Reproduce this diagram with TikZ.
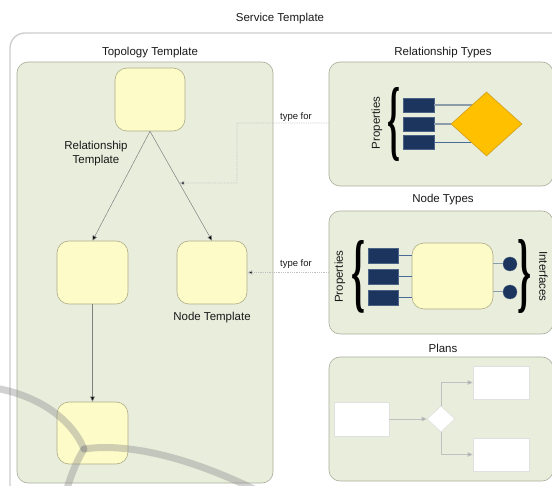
\documentclass[tikz,border=0pt]{standalone}
\usepackage{fontspec}
\setmainfont{Liberation Sans}
\newfontfamily\bracefont{Liberation Serif}
\usetikzlibrary{arrows.meta,shapes.geometric,calc}
\definecolor{outerline}{HTML}{CCCCCC}
\definecolor{boxfill}{HTML}{E9EDDC}
\definecolor{boxline}{HTML}{A9AD9C}
\definecolor{yelfill}{HTML}{FDFBC8}
\definecolor{yelline}{HTML}{B0AE88}
\definecolor{navy}{HTML}{1C355E}
\definecolor{navyline}{HTML}{4A6283}
\definecolor{orange}{HTML}{FFC000}
\definecolor{orangeline}{HTML}{D0A020}
\definecolor{propline}{HTML}{8C9DAA}
\definecolor{propblue}{HTML}{4A6A98}
\definecolor{arrowline}{HTML}{808080}
\definecolor{typeline}{HTML}{C0C0C0}
\definecolor{planline}{HTML}{C0C0C0}
\definecolor{planhead}{HTML}{A8A8A8}
\begin{document}
\begin{tikzpicture}[x=1pt,y=-1pt,
  lbl/.style={font=\fontsize{11.5}{14}\selectfont, text=black!90, inner sep=0pt},
  small/.style={font=\fontsize{9.5}{11}\selectfont, text=black!90, inner sep=0pt},
  panel/.style={draw=boxline, fill=boxfill, line width=0.6pt, rounded corners=11pt, inner sep=0pt},
  yel/.style={draw=yelline, fill=yelfill, line width=0.6pt, rounded corners=12pt, inner sep=0pt},
  prop/.style={draw=navyline, fill=navy, line width=0.4pt, minimum width=31pt, minimum height=14pt, inner sep=0pt},
  iface/.style={circle, fill=navy, draw=navyline, line width=0.3pt, minimum size=14pt, inner sep=0pt},
  planbox/.style={draw=black!12, fill=white, line width=0.6pt, minimum width=56pt, minimum height=33pt, inner sep=0pt},
  tarrow/.style={draw=arrowline, line width=0.5pt, -{Triangle[length=5pt,width=4.5pt,fill=black]}},
  tfline/.style={draw=typeline, line width=0.8pt, densely dotted, -{Triangle[length=5pt,width=4.5pt,fill=black]}},
  pline/.style={draw=planline, line width=0.7pt, -{Triangle[length=5pt,width=4.5pt,fill=planhead]}},
  wm/.style={draw=black!45, line width=7pt, opacity=0.4, line cap=round}
]
\useasboundingbox (0,0) rectangle (552,486);
\clip (0,0) rectangle (552,486);

% Service template outer frame
\draw[outerline, line width=1.3pt, rounded corners=15pt] (10,33) rectangle (600,500);
\node[lbl] (stitle) at (280,19) {Service Template};

% Topology template
\node[panel, minimum width=256pt, minimum height=421pt] (topo) at (145,272.5) {};
\node[lbl] (ttitle) at (150,53) {Topology Template};

\node[yel, minimum width=70pt, minimum height=63pt] (top) at (150,99.5) {};
\node[yel, minimum width=71pt, minimum height=63pt] (lmid) at (92.5,272.5) {};
\node[yel, minimum width=70pt, minimum height=63pt] (rmid) at (212,272.5) {};
\node[yel, minimum width=71pt, minimum height=62pt] (bot) at (92.5,433) {};

\node[lbl, align=center] (rtlabel) at (96,154) {Relationship\\Template};
\node[lbl] (ntlabel) at (212,318) {Node Template};

\draw[tarrow] (top.south) -- (lmid.north);
\draw[tarrow] (top.south) -- (rmid.north);
\draw[tarrow] (lmid.south) -- (bot.north);
\path (top.south) -- (rmid.north) coordinate[pos=0.473] (tf1);

% Relationship types
\node[panel, minimum width=224pt, minimum height=124pt] (rt) at (441,124) {};
\node[lbl] (rttitle) at (443,53) {Relationship Types};
\node[prop] (rp1) at (418.5,105) {};
\node[prop] (rp2) at (418.5,124) {};
\node[prop] (rp3) at (418.5,142.5) {};
\draw[propline, line width=1.2pt] (rp1.east) -- (486,105);
\draw[propline, line width=1.2pt] (rp2.east) -- (486,124);
\draw[propblue, line width=1.2pt] (rp3.east) -- (486,142.5);
\node[diamond, draw=orangeline, fill=orange, line width=0.6pt, minimum width=71pt, minimum height=64pt, inner sep=0pt, aspect=1.1] (rdia) at (486.5,124) {};
\node[inner sep=0pt] (rbrace) at (394,124) {\resizebox{13pt}{62pt}{\bracefont\bfseries\{}};
\node[lbl, rotate=90] (rprops) at (377,123) {Properties};

% Node types
\node[panel, minimum width=224pt, minimum height=123pt] (nt) at (441,272.5) {};
\node[lbl] (nttitle) at (443,200) {Node Types};
\node[yel, minimum width=81pt, minimum height=66pt] (ntbox) at (452.5,276) {};
\node[prop, minimum width=30pt, minimum height=14.5pt] (np1) at (383,255.5) {};
\node[prop, minimum width=30pt, minimum height=14.5pt] (np2) at (383,276.5) {};
\node[prop, minimum width=30pt, minimum height=14.5pt] (np3) at (383,297.5) {};
\draw[propblue, line width=0.8pt] (np1.east) -- (np1.east -| ntbox.west);
\draw[propblue, line width=0.8pt] (np2.east) -- (np2.east -| ntbox.west);
\draw[propblue, line width=0.8pt] (np3.east) -- (np3.east -| ntbox.west);
\node[iface] (if1) at (510,264) {};
\node[iface] (if2) at (510,292) {};
\draw[propline, line width=1pt] (if1.west -| ntbox.east) -- (if1.west);
\draw[propline, line width=1pt] (if2.west -| ntbox.east) -- (if2.west);
\node[inner sep=0pt] (nbrace) at (358,276.5) {\resizebox{14pt}{61pt}{\bracefont\bfseries\{}};
\node[inner sep=0pt] (ibrace) at (524.5,276) {\resizebox{14pt}{62pt}{\bracefont\bfseries\}}};
\node[lbl, rotate=90] (nprops) at (340,276.5) {Properties};
\node[lbl, rotate=-90] (ifaces) at (543.5,276.5) {Interfaces};

% Plans
\node[panel, minimum width=224pt, minimum height=124pt] (plans) at (441,419) {};
\node[lbl] (ptitle) at (443,348) {Plans};
\node[planbox, minimum width=55pt, minimum height=34pt] (pstart) at (361.5,419) {};
\node[planbox] (ptop) at (501,382.5) {};
\node[planbox] (pbot) at (501,454.5) {};
\node[diamond, draw=black!12, fill=white, line width=0.6pt, minimum width=28pt, minimum height=26pt, inner sep=0pt] (pdia) at (441,419) {};
\draw[pline] (pstart.east) -- (pdia.west);
\draw[pline] (pdia.north) |- (ptop.west);
\draw[pline] (pdia.south) |- (pbot.west);

% type for connectors
\draw[tfline] (rt.west |- 0,123) -- (237,123) -- (237,183) -- (tf1);
\node[small] (tf1lbl) at (296,117) {type for};
\draw[tfline] (nt.west) -- (rmid.east);
\node[small] (tf2lbl) at (296,264) {type for};

% watermark arcs
\draw[wm] (-5,388) .. controls (40,396) and (72,420) .. (84,449);
\draw[wm] (84,449) .. controls (125,443) and (185,455) .. (260,492);
\draw[wm] (84,449) .. controls (76,462) and (70,478) .. (66,492);
\end{tikzpicture}
\end{document}
